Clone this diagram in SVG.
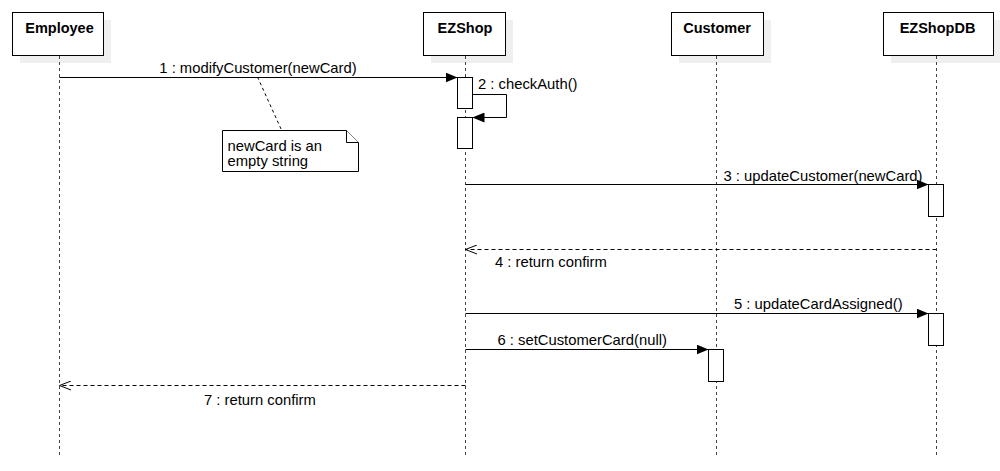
<svg xmlns="http://www.w3.org/2000/svg" width="1000" height="471" viewBox="0 0 1000 471">
<style>
  .bg { fill: #ffffff; }
  .shadow { fill: #efefef; stroke: none; }
  .head { fill: #ffffff; stroke: #000000; stroke-width: 1; }
  .headtxt { font-family: "Liberation Sans", Arial, sans-serif; font-weight: bold; font-size: 14.5px; fill: #000000; text-anchor: middle; }
  .life { stroke: #444444; stroke-width: 1; stroke-dasharray: 3 3; fill: none; }
  .act { fill: #ffffff; stroke: #000000; stroke-width: 1; }
  .msg { stroke: #000000; stroke-width: 1; fill: none; }
  .ret { stroke: #000000; stroke-width: 1; fill: none; stroke-dasharray: 4 3; }
  .lbl { font-family: "Liberation Sans", Arial, sans-serif; font-size: 14.8px; fill: #000000; }
  .note { fill: #ffffff; stroke: #000000; stroke-width: 1; }
  .notelink { stroke: #000000; stroke-width: 1; stroke-dasharray: 3 3; fill: none; }
</style>
<defs>
  <marker id="filled" viewBox="0 0 12 10" markerWidth="12" markerHeight="10" markerUnits="userSpaceOnUse" refX="12" refY="5" orient="auto">
    <path d="M0,0 L12,5 L0,10 Z" fill="#000000"/>
  </marker>
  <marker id="open" viewBox="0 0 12 10" markerWidth="12" markerHeight="10" markerUnits="userSpaceOnUse" refX="11.5" refY="5" orient="auto">
    <path d="M0,0.5 L11.5,5 L0,9.5" fill="none" stroke="#000000" stroke-width="1"/>
  </marker>
</defs>
<rect class="bg" x="0" y="0" width="1000" height="471"/>

<g id="employee">
  <rect class="shadow" x="20" y="20" width="91" height="43"/>
  <rect class="head" x="12.5" y="12.5" width="91" height="43"/>
  <text class="headtxt" x="59.5" y="33">Employee</text>
  <line class="life" x1="59.5" y1="56" x2="59.5" y2="458"/>
</g>

<g id="ezshop">
  <rect class="shadow" x="431" y="20" width="82" height="43"/>
  <rect class="head" x="423.5" y="12.5" width="82" height="43"/>
  <text class="headtxt" x="465" y="33">EZShop</text>
  <line class="life" x1="465.5" y1="56" x2="465.5" y2="458"/>
  <rect class="act" x="457.5" y="77.5" width="15" height="31"/>
  <rect class="act" x="457.5" y="117.5" width="15" height="31"/>
</g>

<g id="customer">
  <rect class="shadow" x="679" y="20" width="92" height="43"/>
  <rect class="head" x="671.5" y="12.5" width="92" height="43"/>
  <text class="headtxt" x="717" y="33">Customer</text>
  <line class="life" x1="716.5" y1="56" x2="716.5" y2="458"/>
  <rect class="act" x="708.5" y="349.5" width="15" height="32"/>
</g>

<g id="ezshopdb">
  <rect class="shadow" x="891" y="20" width="110" height="43"/>
  <rect class="head" x="883.5" y="12.5" width="110" height="43"/>
  <text class="headtxt" x="937.5" y="33">EZShopDB</text>
  <line class="life" x1="936.5" y1="56" x2="936.5" y2="458"/>
  <rect class="act" x="928.5" y="184.5" width="15" height="32"/>
  <rect class="act" x="928.5" y="313.5" width="15" height="32"/>
</g>

<g id="note">
  <path class="note" d="M222.5,130.5 H346.5 L358.5,142.5 V171.5 H222.5 Z"/>
  <path class="note" d="M346.5,130.5 V142.5 H358.5" fill="none"/>
  <text class="lbl" x="227.5" y="150.5">newCard is an</text>
  <text class="lbl" x="227.5" y="165.5">empty string</text>
</g>

<g id="connectors">
  <line class="notelink" x1="257.5" y1="77" x2="281.5" y2="130"/>

  <line class="msg" x1="59.5" y1="77.5" x2="457.5" y2="77.5" marker-end="url(#filled)"/>
  <text class="lbl" x="258" y="73" text-anchor="middle">1 : modifyCustomer(newCard)</text>

  <polyline class="msg" points="472.5,94.5 506.5,94.5 506.5,117.5 472.5,117.5" marker-end="url(#filled)"/>
  <text class="lbl" x="478" y="89">2 : checkAuth()</text>

  <line class="msg" x1="465.5" y1="184.5" x2="928.5" y2="184.5" marker-end="url(#filled)"/>
  <text class="lbl" x="723.5" y="180.5">3 : updateCustomer(newCard)</text>

  <line class="ret" x1="936.5" y1="249.5" x2="465.5" y2="249.5" marker-end="url(#open)"/>
  <text class="lbl" x="495" y="266.5">4 : return confirm</text>

  <line class="msg" x1="465.5" y1="313.5" x2="928.5" y2="313.5" marker-end="url(#filled)"/>
  <text class="lbl" x="734" y="309">5 : updateCardAssigned()</text>

  <line class="msg" x1="465.5" y1="349.5" x2="708.5" y2="349.5" marker-end="url(#filled)"/>
  <text class="lbl" x="497.5" y="345">6 : setCustomerCard(null)</text>

  <line class="ret" x1="465.5" y1="385.5" x2="59.5" y2="385.5" marker-end="url(#open)"/>
  <text class="lbl" x="204" y="405">7 : return confirm</text>
</g>
</svg>
